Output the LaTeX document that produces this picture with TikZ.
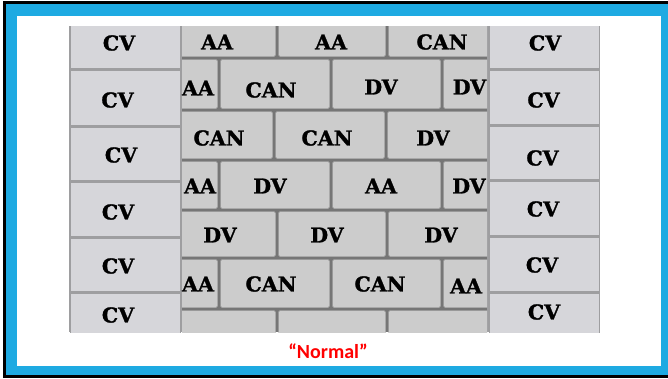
\documentclass[tikz,border=0pt]{standalone}
\usepackage{fontspec}
\setmainfont{DejaVu Serif}[BoldFeatures={FakeBold=1.3}]
\newfontfamily\capfont{Carlito}
\usetikzlibrary{positioning}
\definecolor{frameblue}{RGB}{30,170,226}
\definecolor{mortar}{RGB}{118,118,118}
\definecolor{brickgray}{RGB}{204,204,204}
\definecolor{blockgray}{RGB}{214,214,218}
\definecolor{blockline}{RGB}{158,158,160}

\begin{document}
\begin{tikzpicture}[
  x=1pt,y=-1pt,
  lbl/.style={font=\fontsize{20.5}{22}\selectfont\bfseries,inner sep=0pt},
  brick/.style={fill=brickgray,draw=brickgray!80!black,rounded corners=1.5pt},
  block/.style={fill=blockgray,draw=blockline,line width=.6pt},
  caption/.style={font=\capfont\bfseries\fontsize{20}{22}\selectfont,text=red,inner sep=0pt}]
\useasboundingbox (0,0) rectangle (668,378);
% frame
\fill[black] (3,1) rectangle (668,378);
\fill[frameblue] (6,4) rectangle (668,375);
\fill[white] (17,16) rectangle (661,366);

% side columns of blocks
\fill[blockline] (69,26) rectangle (182,332);
\fill[blockline] (487,26) rectangle (600,332);
\begin{scope}
  \clip (69,26) rectangle (182,332);
  \foreach \a/\b in {10/69,69/126,126/181,181/237,237/292,292/350}
    \draw[block] (70,\a+1) rectangle (180,\b-1);
\end{scope}
\begin{scope}
  \clip (487,26) rectangle (600,332);
  \foreach \a/\b in {10/69,69/125,125/180,180/236,236/292,292/350}
    \draw[block] (489,\a+1) rectangle (599,\b-1);
\end{scope}

% middle wall
\fill[mortar] (182,26) rectangle (487,332);
\begin{scope}
  \clip (182,26) rectangle (487,332);
  \foreach \a/\b in {170/277,277/387,387/500} {
    \draw[brick] (\a+1.5,10) rectangle (\b-1.5,56.5);
    \draw[brick] (\a+1.5,211.5) rectangle (\b-1.5,256.5);
    \draw[brick] (\a+1.5,310.5) rectangle (\b-1.5,350);
  }
  \foreach \a/\b in {170/219,219/331,331/442,442/500} {
    \draw[brick] (\a+1.5,59.5) rectangle (\b-1.5,108.5);
    \draw[brick] (\a+1.5,161.5) rectangle (\b-1.5,208.5);
    \draw[brick] (\a+1.5,259.5) rectangle (\b-1.5,307.5);
  }
  \foreach \a/\b in {170/274,274/386,386/500}
    \draw[brick] (\a+1.5,111.5) rectangle (\b-1.5,158.5);
\end{scope}

% labels
\node[lbl] (cvl1) at (119,43) {CV};
\node[lbl] (cvl2) at (117.5,100) {CV};
\node[lbl] (cvl3) at (121,155) {CV};
\node[lbl] (cvl4) at (118,212) {CV};
\node[lbl] (cvl5) at (118,266) {CV};
\node[lbl] (cvl6) at (118,315) {CV};
\node[lbl] (cvr1) at (545,43) {CV};
\node[lbl] (cvr2) at (543.5,100) {CV};
\node[lbl] (cvr3) at (542.5,158) {CV};
\node[lbl] (cvr4) at (543,209) {CV};
\node[lbl] (cvr5) at (542,265) {CV};
\node[lbl] (cvr6) at (544,312) {CV};

\node[lbl] (r1c1) at (217,42) {AA};
\node[lbl] (r1c2) at (331,42) {AA};
\node[lbl] (r1c3) at (442,42) {CAN};
\node[lbl] (r2c1) at (198,88) {AA};
\node[lbl] (r2c2) at (271,90) {CAN};
\node[lbl] (r2c3) at (381,87) {DV};
\node[lbl] (r2c4) at (469.5,87) {DV};
\node[lbl] (r3c1) at (219,138) {CAN};
\node[lbl] (r3c2) at (327,138) {CAN};
\node[lbl] (r3c3) at (433,138) {DV};
\node[lbl] (r4c1) at (200,186) {AA};
\node[lbl] (r4c2) at (270,186) {DV};
\node[lbl] (r4c3) at (381,186) {AA};
\node[lbl] (r4c4) at (469,186) {DV};
\node[lbl] (r5c1) at (220,235) {DV};
\node[lbl] (r5c2) at (327,235) {DV};
\node[lbl] (r5c3) at (441,235) {DV};
\node[lbl] (r6c1) at (198,284) {AA};
\node[lbl] (r6c2) at (271,284) {CAN};
\node[lbl] (r6c3) at (380,284) {CAN};
\node[lbl] (r6c4) at (466,286) {AA};

\node[caption] (normal) at (328,351) {“Normal”};
\end{tikzpicture}
\end{document}
